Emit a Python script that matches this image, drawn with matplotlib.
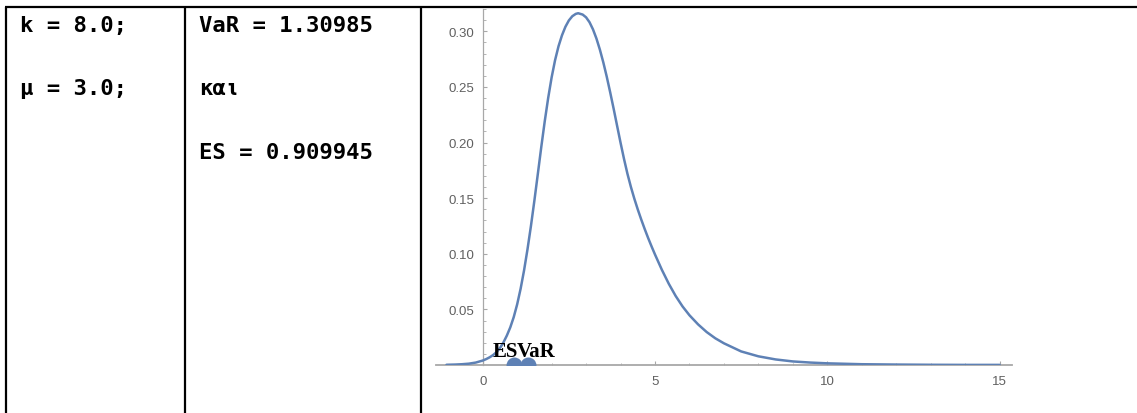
import matplotlib
matplotlib.use("Agg")
import matplotlib.pyplot as plt
from matplotlib.lines import Line2D
from matplotlib.ticker import FixedLocator, FormatStrFormatter

# ---------------- data ----------------
param_lines = ["k = 8.0;", "μ = 3.0;"]
risk_lines = ["VaR = 1.30985", "και", "ES = 0.909945"]

var_value = 1.30985
es_value = 0.909945
point_labels = ["ES", "VaR"]
point_values = [es_value, var_value]

curve_x = [-1.05, -0.8, -0.6, -0.4, -0.2, 0.0, 0.1, 0.2, 0.3, 0.4, 0.5, 0.6, 0.7,
           0.8, 0.9, 1.0, 1.1, 1.2, 1.3, 1.4, 1.5, 1.6, 1.7, 1.8, 1.9, 2.0, 2.1,
           2.2, 2.3, 2.4, 2.5, 2.6, 2.7, 2.77, 2.9, 3.0, 3.1, 3.2, 3.3, 3.4, 3.5,
           3.6, 3.7, 3.8, 3.9, 4.0, 4.1, 4.2, 4.3, 4.4, 4.5, 4.6, 4.7, 4.8, 4.9,
           5.0, 5.2, 5.4, 5.6, 5.8, 6.0, 6.25, 6.5, 6.75, 7.0, 7.5, 8.0, 8.5, 9.0,
           9.5, 10.0, 11.0, 12.0, 13.0, 14.0, 15.0]
curve_y = [0.0002, 0.0004, 0.0007, 0.0012, 0.0022, 0.0040, 0.0053, 0.0069, 0.0089,
           0.0115, 0.0152, 0.0202, 0.0264, 0.0338, 0.0430, 0.0545, 0.0685, 0.0850,
           0.1040, 0.1250, 0.1478, 0.1718, 0.1960, 0.2190, 0.2400, 0.2585, 0.2740,
           0.2865, 0.2963, 0.3040, 0.3097, 0.3135, 0.3156, 0.3162, 0.3150, 0.3125,
           0.3081, 0.3017, 0.2935, 0.2835, 0.2720, 0.2591, 0.2450, 0.2303, 0.2150,
           0.1998, 0.1853, 0.1719, 0.1601, 0.1495, 0.1398, 0.1308, 0.1223, 0.1142,
           0.1066, 0.0993, 0.0855, 0.0730, 0.0620, 0.0526, 0.0447, 0.0365, 0.0296,
           0.0240, 0.0195, 0.0122, 0.0078, 0.0050, 0.0032, 0.0022, 0.0015, 0.0007,
           0.0004, 0.0002, 0.0001, 0.0001]

x_major_ticks = [0, 5, 10, 15]
x_minor_ticks = [1, 2, 3, 4, 6, 7, 8, 9, 11, 12, 13, 14]
y_major_ticks = [0.05, 0.10, 0.15, 0.20, 0.25, 0.30]
y_minor_ticks = [v / 100 for v in range(1, 33) if v % 5 != 0]

# ---------------- figure ----------------
W, H = 1137, 414
fig = plt.figure(figsize=(W / 100, H / 100), dpi=100)
fig.patch.set_facecolor("white")

def fx(px):
    return px / W

def fy(py):
    return 1 - py / H

# table borders
border_kw = dict(color="black", linewidth=1.6, transform=fig.transFigure, solid_capstyle="butt")
fig.add_artist(Line2D([fx(5), fx(1137)], [fy(8), fy(8)], **border_kw))
for xp in [6, 185.3, 421]:
    fig.add_artist(Line2D([fx(xp), fx(xp)], [fy(8), fy(414)], **border_kw))

mono = dict(family="DejaVu Sans Mono", weight="bold", size=16, color="black")
baselines = [31.7, 95, 159.3]
for i, s in enumerate(param_lines):
    fig.text(fx(20), fy(baselines[i]), s, va="baseline", ha="left", **mono)
for i, s in enumerate(risk_lines):
    fig.text(fx(199), fy(baselines[i]), s, va="baseline", ha="left", **mono)

# ---------------- plot ----------------
blue = "#5E81B5"
axis_gray = "#a8a8a8"
label_gray = "#606060"

left, right = 436, 1011.7
top, bottom = 10, 366
ax = fig.add_axes([fx(left), fy(bottom), fx(right) - fx(left), fy(top) - fy(bottom)])
ax.set_xlim(-1.355, 15.35)
ax.set_ylim(0, 0.32)

ax.plot(curve_x, curve_y, color=blue, linewidth=1.8, solid_joinstyle="round",
        solid_capstyle="round", zorder=3)
ax.plot(point_values, [0] * len(point_values), "o", color=blue, markersize=11.5,
        markeredgewidth=0, clip_on=True, zorder=4)

offsets = [-6, 6]
for lab, v, off in zip(point_labels, point_values, offsets):
    ax.annotate(lab, (v, 0), xytext=(off, 6.3), textcoords="offset points",
                ha="center", va="baseline", family="Liberation Serif",
                weight="bold", size=15, color="black", zorder=5,
                annotation_clip=False)

for side in ["top", "right"]:
    ax.spines[side].set_visible(False)
ax.spines["left"].set_position(("data", 0))
ax.spines["bottom"].set_position(("data", 0))
ax.spines["left"].set_color(axis_gray)
ax.spines["bottom"].set_color(axis_gray)
ax.spines["left"].set_linewidth(0.9)
ax.spines["bottom"].set_linewidth(1.3)

ax.xaxis.set_major_locator(FixedLocator(x_major_ticks))
ax.xaxis.set_minor_locator(FixedLocator(x_minor_ticks))
ax.yaxis.set_major_locator(FixedLocator(y_major_ticks))
ax.yaxis.set_minor_locator(FixedLocator(y_minor_ticks))
ax.yaxis.set_major_formatter(FormatStrFormatter("%.2f"))

ax.tick_params(axis="both", which="both", direction="in", colors=axis_gray,
               labelcolor=label_gray, labelsize=9.5)
ax.tick_params(axis="both", which="major", length=3.2, width=0.8)
ax.tick_params(axis="both", which="minor", length=1.8, width=0.6)
ax.tick_params(axis="x", which="major", pad=7)
ax.tick_params(axis="y", which="major", pad=6)
for lbl in ax.get_xticklabels() + ax.get_yticklabels():
    lbl.set_family("Liberation Sans")

ax.patch.set_alpha(0)

fig.savefig("out.png", dpi=100, facecolor="white")
